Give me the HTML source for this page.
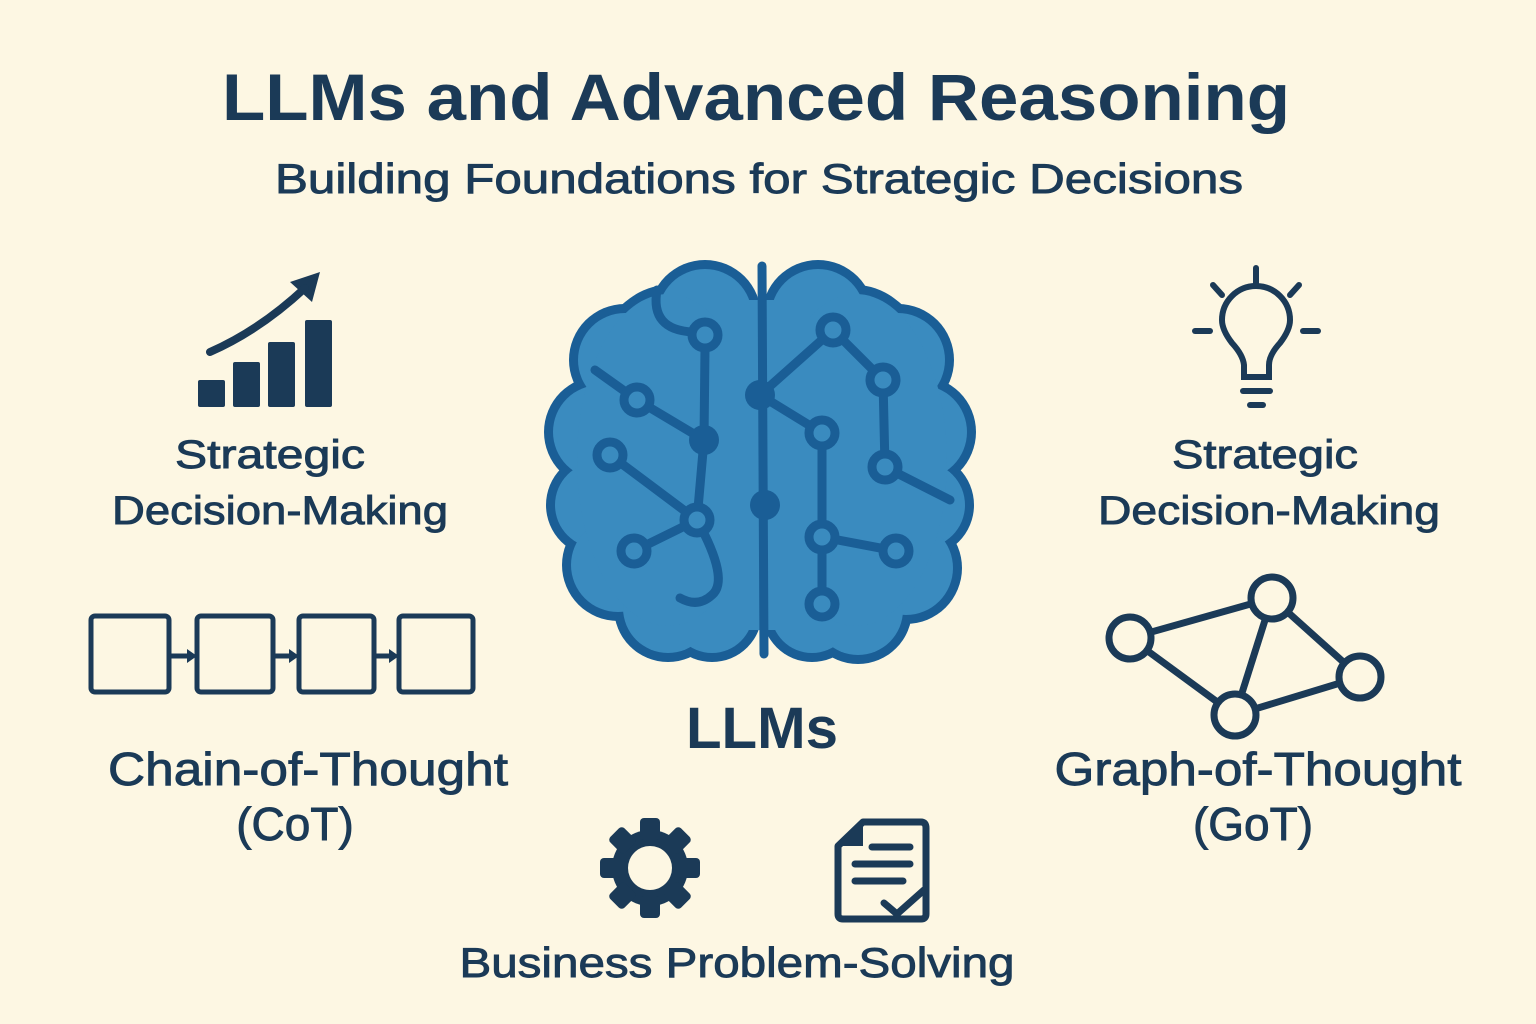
<!DOCTYPE html>
<html><head><meta charset="utf-8"><style>
html,body{margin:0;padding:0;background:#fdf7e3;}
svg{display:block}
text{font-family:"Liberation Sans",sans-serif;fill:#1b3a57}
.m{stroke:#1b3a57;stroke-width:0.9px}
</style></head><body>
<svg width="1536" height="1024" viewBox="0 0 1536 1024" xmlns="http://www.w3.org/2000/svg">
<rect width="1536" height="1024" fill="#fdf7e3"/>
<text x="756" y="120" font-size="66" font-weight="bold" text-anchor="middle" textLength="1068" lengthAdjust="spacingAndGlyphs">LLMs and Advanced Reasoning</text>
<text class="m" x="759" y="193" font-size="42" text-anchor="middle" textLength="968" lengthAdjust="spacingAndGlyphs">Building Foundations for Strategic Decisions</text>

<!-- Brain -->
<g fill="#1a5e96">
<circle cx="705" cy="316" r="56"/><circle cx="625" cy="360" r="56"/><circle cx="600" cy="432" r="56"/><circle cx="598" cy="505" r="52"/><circle cx="618" cy="565" r="56"/><circle cx="668" cy="608" r="54"/><circle cx="712" cy="612" r="50"/>
<circle cx="818" cy="316" r="56"/><circle cx="898" cy="360" r="56"/><circle cx="920" cy="432" r="56"/><circle cx="922" cy="505" r="52"/><circle cx="906" cy="568" r="56"/><circle cx="858" cy="610" r="54"/><circle cx="812" cy="612" r="50"/>
<ellipse cx="668" cy="460" rx="100" ry="175"/><ellipse cx="856" cy="460" rx="100" ry="175"/>
</g>
<g fill="#3a8bbf">
<circle cx="705" cy="316" r="47"/><circle cx="625" cy="360" r="47"/><circle cx="600" cy="432" r="47"/><circle cx="598" cy="505" r="43"/><circle cx="618" cy="565" r="47"/><circle cx="668" cy="608" r="45"/><circle cx="712" cy="612" r="41"/>
<circle cx="818" cy="316" r="47"/><circle cx="898" cy="360" r="47"/><circle cx="920" cy="432" r="47"/><circle cx="922" cy="505" r="43"/><circle cx="906" cy="568" r="47"/><circle cx="858" cy="610" r="45"/><circle cx="812" cy="612" r="41"/>
<ellipse cx="668" cy="460" rx="91" ry="166"/><ellipse cx="856" cy="460" rx="91" ry="166"/>
<rect x="715" y="300" width="95" height="330"/>
</g>
<g stroke="#1a5e96" stroke-width="9" fill="none" stroke-linecap="round">
<line x1="762" y1="266" x2="764" y2="654"/>
<path d="M657 290 Q650 330 693 332"/>
<path d="M705 348 L704 440 L697 520"/>
<path d="M595 370 L637 400 L704 440"/>
<path d="M610 455 L697 520 L634 551"/>
<path d="M697 520 Q730 580 712 595 Q698 608 680 598"/>
<path d="M760 395 L833 330 L883 380 L885 467 L950 500"/>
<path d="M760 395 L822 433 L822 604"/>
<path d="M822 537 L896 551"/>
</g>
<g fill="#1a5e96"><circle cx="704" cy="440" r="15"/><circle cx="760" cy="395" r="15"/><circle cx="765" cy="505" r="15"/></g>
<g fill="#3a8bbf" stroke="#1a5e96" stroke-width="9">
<circle cx="705" cy="335" r="13"/><circle cx="637" cy="400" r="13"/><circle cx="610" cy="455" r="13"/><circle cx="697" cy="520" r="13"/><circle cx="634" cy="551" r="13"/>
<circle cx="833" cy="330" r="13"/><circle cx="883" cy="380" r="13"/><circle cx="822" cy="433" r="13"/><circle cx="885" cy="467" r="13"/><circle cx="822" cy="537" r="13"/><circle cx="896" cy="551" r="13"/><circle cx="822" cy="604" r="13"/>
</g>
<text x="762" y="748" font-size="58" font-weight="bold" text-anchor="middle" textLength="152" lengthAdjust="spacingAndGlyphs">LLMs</text>

<!-- chart icon -->
<g fill="#1b3a57">
<rect x="198" y="380" width="27" height="27" rx="2"/><rect x="233" y="362" width="27" height="45" rx="2"/><rect x="268" y="342" width="27" height="65" rx="2"/><rect x="305" y="320" width="27" height="87" rx="2"/>
<path d="M320 272 L312 302 L290 282 Z"/>
</g>
<path d="M210 352 Q260 330 305 288" stroke="#1b3a57" stroke-width="8" fill="none" stroke-linecap="round"/>
<text class="m" x="270" y="468" font-size="40" text-anchor="middle" textLength="190" lengthAdjust="spacingAndGlyphs">Strategic</text>
<text class="m" x="280" y="524" font-size="40" text-anchor="middle" textLength="336" lengthAdjust="spacingAndGlyphs">Decision-Making</text>

<!-- chain -->
<g stroke="#1b3a57" stroke-width="5" fill="none">
<rect x="91" y="616" width="78" height="76" rx="4"/><rect x="197" y="616" width="76" height="76" rx="4"/><rect x="299" y="616" width="75" height="76" rx="4"/><rect x="399" y="616" width="74" height="76" rx="4"/>
<line x1="169" y1="656" x2="190" y2="656"/><line x1="273" y1="656" x2="292" y2="656"/><line x1="374" y1="656" x2="392" y2="656"/>
</g>
<g fill="#1b3a57"><path d="M197 656 L187 649 L187 663Z"/><path d="M299 656 L289 649 L289 663Z"/><path d="M399 656 L389 649 L389 663Z"/></g>
<text class="m" x="308" y="785" font-size="46" text-anchor="middle" textLength="400" lengthAdjust="spacingAndGlyphs">Chain-of-Thought</text>
<text class="m" x="295" y="840" font-size="46" text-anchor="middle">(CoT)</text>

<!-- bulb -->
<g stroke="#1b3a57" stroke-width="6" fill="none" stroke-linecap="round">
<path d="M1244 377 L1244 365 Q1243 355 1232 343 Q1222 330 1222 320 A34 34 0 0 1 1290 320 Q1290 330 1280 343 Q1269 355 1269 365 L1269 377 Z"/>
<line x1="1256" y1="268" x2="1256" y2="284"/><line x1="1195" y1="331" x2="1210" y2="331"/><line x1="1303" y1="331" x2="1318" y2="331"/>
<line x1="1213" y1="285" x2="1222" y2="295"/><line x1="1299" y1="285" x2="1290" y2="295"/>
<line x1="1243" y1="391" x2="1270" y2="391"/><line x1="1250" y1="405" x2="1263" y2="405"/>
</g>
<text class="m" x="1265" y="468" font-size="40" text-anchor="middle" textLength="186" lengthAdjust="spacingAndGlyphs">Strategic</text>
<text class="m" x="1269" y="524" font-size="40" text-anchor="middle" textLength="342" lengthAdjust="spacingAndGlyphs">Decision-Making</text>

<!-- graph -->
<g stroke="#1b3a57" stroke-width="7" fill="none">
<line x1="1130" y1="638" x2="1272" y2="598"/><line x1="1130" y1="638" x2="1235" y2="715"/><line x1="1272" y1="598" x2="1235" y2="715"/><line x1="1272" y1="598" x2="1360" y2="677"/><line x1="1235" y1="715" x2="1360" y2="677"/>
</g>
<g stroke="#1b3a57" stroke-width="7" fill="#fdf7e3">
<circle cx="1130" cy="638" r="21"/><circle cx="1272" cy="598" r="21"/><circle cx="1360" cy="677" r="21"/><circle cx="1235" cy="715" r="21"/>
</g>
<text class="m" x="1258" y="785" font-size="46" text-anchor="middle" textLength="407" lengthAdjust="spacingAndGlyphs">Graph-of-Thought</text>
<text class="m" x="1253" y="840" font-size="46" text-anchor="middle">(GoT)</text>

<!-- gear -->
<g transform="translate(650,868)" fill="#1b3a57">
<circle r="38"/>
<g><rect x="-10" y="-50" width="20" height="22" rx="4"/><rect x="-10" y="-50" width="20" height="22" rx="4" transform="rotate(45)"/><rect x="-10" y="-50" width="20" height="22" rx="4" transform="rotate(90)"/><rect x="-10" y="-50" width="20" height="22" rx="4" transform="rotate(135)"/><rect x="-10" y="-50" width="20" height="22" rx="4" transform="rotate(180)"/><rect x="-10" y="-50" width="20" height="22" rx="4" transform="rotate(225)"/><rect x="-10" y="-50" width="20" height="22" rx="4" transform="rotate(270)"/><rect x="-10" y="-50" width="20" height="22" rx="4" transform="rotate(315)"/></g>
<circle r="22" fill="#fdf7e3"/>
</g>
<!-- document -->
<g stroke="#1b3a57" stroke-width="7" fill="none" stroke-linecap="round" stroke-linejoin="round">
<path d="M863 822 L921 822 Q926 822 926 828 L926 914 Q926 919 921 919 L843 919 Q838 919 838 914 L838 846 Z"/>
<line x1="872" y1="847" x2="910" y2="847"/><line x1="855" y1="864" x2="910" y2="864"/><line x1="855" y1="881" x2="903" y2="881"/>
<path d="M884 903 L897 914 L924 890"/>
</g>
<path d="M863 822 L838 846 L863 846 Z" fill="#1b3a57"/>
<text class="m" x="737" y="977" font-size="42" text-anchor="middle" textLength="555" lengthAdjust="spacingAndGlyphs">Business Problem-Solving</text>
</svg>
</body></html>
